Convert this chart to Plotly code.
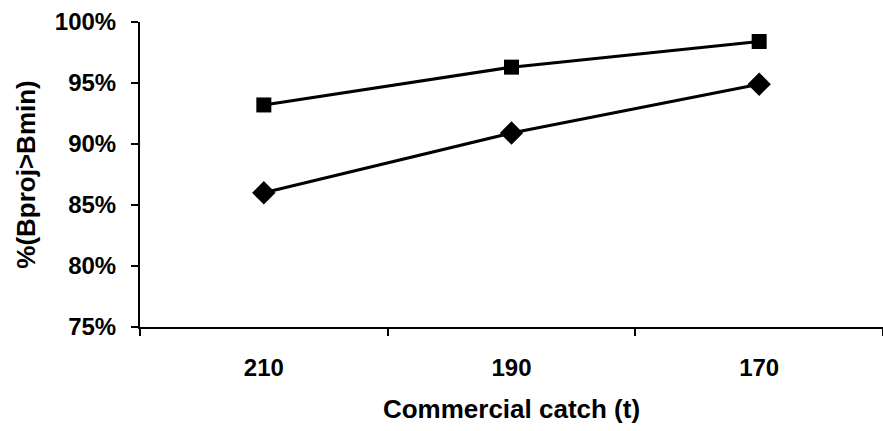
import plotly.graph_objects as go

# Commercial catch scenarios (t) and probability that projected biomass exceeds Bmin
catch_levels = ["210", "190", "170"]
series_square = [93.2, 96.3, 98.4]
series_diamond = [86.0, 90.9, 94.9]
y_ticks = [75, 80, 85, 90, 95, 100]
y_tick_labels = ["75%", "80%", "85%", "90%", "95%", "100%"]

FONT = "Liberation Sans, Arial, sans-serif"

fig = go.Figure()
fig.add_trace(go.Scatter(
    x=catch_levels, y=series_square, mode="lines+markers",
    line=dict(color="black", width=3),
    marker=dict(symbol="square", size=15, color="black"),
    showlegend=False,
))
fig.add_trace(go.Scatter(
    x=catch_levels, y=series_diamond, mode="lines+markers",
    line=dict(color="black", width=3),
    marker=dict(symbol="diamond", size=18, color="black"),
    showlegend=False,
))

fig.update_layout(
    width=883, height=431,
    margin=dict(l=140, r=0, t=22, b=104),
    paper_bgcolor="white", plot_bgcolor="white",
    font=dict(family=FONT, color="black"),
    xaxis=dict(
        type="category", range=[-0.5, 2.5],
        tickson="boundaries", ticks="outside", ticklen=7, tickwidth=2, tickcolor="black",
        showline=True, linecolor="black", linewidth=2, showgrid=False, zeroline=False,
        tickfont=dict(size=24, family=FONT), ticklabelstandoff=18,
        title=dict(text="<b>Commercial catch (t)</b>", font=dict(size=26, family=FONT), standoff=20),
    ),
    yaxis=dict(
        range=[75, 100], tickvals=y_ticks, ticktext=[f"<b>{t}</b>" for t in y_tick_labels],
        ticks="outside", ticklen=7, tickwidth=2, tickcolor="black",
        showline=True, linecolor="black", linewidth=2, showgrid=False, zeroline=False,
        tickfont=dict(size=24, family=FONT), ticklabelstandoff=10,
        title=dict(text="<b>%(Bproj>Bmin)</b>", font=dict(size=26, family=FONT), standoff=12),
    ),
)
fig.update_xaxes(ticktext=[f"<b>{c}</b>" for c in catch_levels], tickvals=catch_levels)

fig.write_html("out.html")
